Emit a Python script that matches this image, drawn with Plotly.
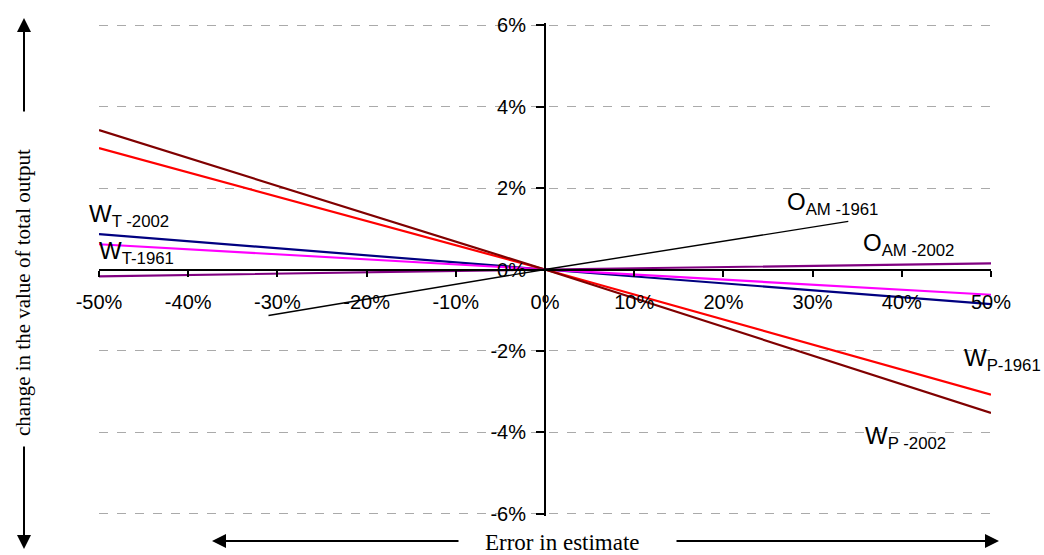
import plotly.graph_objects as go

# Error in estimate (%) and resulting change in the value of total output (%)
error_pct = [-50, 0, 50]
wp_2002 = [3.42, 0, -3.52]
wp_1961 = [2.98, 0, -3.07]
wt_2002 = [0.87, 0, -0.85]
wt_1961 = [0.62, 0, -0.62]
oam_2002 = [-0.17, 0, 0.15]
oam_1961_error = [-31, 0, 34]
oam_1961 = [-1.13, 0, 1.18]

x_ticks = [-50, -40, -30, -20, -10, 0, 10, 20, 30, 40, 50]
x_tick_text = ["-50%", "-40%", "-30%", "-20%", "-10%", "0%",
               "10%", "20%", "30%", "40%", "50%"]
y_ticks = [-6, -4, -2, 0, 2, 4, 6]
y_tick_text = ["-6%", "-4%", "-2%", "0%", "2%", "4%", "6%"]

SANS = "Liberation Sans, Arial, sans-serif"
SERIF = "Liberation Serif, Times New Roman, serif"

W, H = 1044, 555
ML, MR, MT, MB = 99, 53, 23, 39
PW, PH = W - ML - MR, H - MT - MB


def px(xp):
    return (xp - ML) / PW


def py(yp):
    return (H - MB - yp) / PH


fig = go.Figure()

series = [
    (wt_2002, "#000080", "W<sub>T -2002</sub>"),
    (wt_1961, "#FF00FF", "W<sub>T-1961</sub>"),
    (wp_1961, "#FF0000", "W<sub>P-1961</sub>"),
    (wp_2002, "#800000", "W<sub>P -2002</sub>"),
    (oam_2002, "#800080", "O<sub>AM -2002</sub>"),
]
for values, color, name in series:
    fig.add_trace(go.Scatter(x=error_pct, y=values, mode="lines", name=name,
                             line=dict(color=color, width=2.2), showlegend=False))
fig.add_trace(go.Scatter(x=oam_1961_error, y=oam_1961, mode="lines",
                         name="O<sub>AM -1961</sub>",
                         line=dict(color="black", width=1.4), showlegend=False))

# Series labels placed next to their lines (page pixel positions)
labels = [
    ("W<sub>T -2002</sub>", 87, 216),
    ("W<sub>T-1961</sub>", 97, 252),
    ("O<sub>AM -1961</sub>", 785, 203),
    ("O<sub>AM -2002</sub>", 861, 244),
    ("W<sub>P-1961</sub>", 962, 359),
    ("W<sub>P -2002</sub>", 863, 437),
]
for text, lx, ly in labels:
    fig.add_annotation(x=px(lx), y=py(ly), xref="paper", yref="paper", text=text,
                       showarrow=False, xanchor="left", yanchor="middle",
                       font=dict(family=SANS, size=24, color="black"))

arrow = dict(showarrow=True, arrowhead=2, arrowsize=1.4, arrowwidth=2,
             arrowcolor="black", text="", xref="paper", yref="paper",
             axref="pixel", ayref="pixel")

# Vertical axis title with arrows
fig.add_annotation(x=px(23), y=py(293), text="change in the value of total output",
                   textangle=-90, showarrow=False, xref="paper", yref="paper",
                   xanchor="center", yanchor="middle",
                   font=dict(family=SERIF, size=21, color="black"))
fig.add_annotation(x=px(24), y=py(18), ax=0, ay=95, **arrow)
fig.add_annotation(x=px(24), y=py(549), ax=0, ay=-104, **arrow)

# Horizontal axis title with arrows
fig.add_annotation(x=px(562), y=py(542), text="Error in estimate",
                   showarrow=False, xref="paper", yref="paper",
                   xanchor="center", yanchor="middle",
                   font=dict(family=SERIF, size=23, color="black"))
fig.add_annotation(x=px(212), y=py(541), ax=248, ay=0, **arrow)
fig.add_annotation(x=px(999), y=py(541), ax=-324, ay=0, **arrow)

fig.update_layout(
    width=W, height=H,
    margin=dict(l=ML, r=MR, t=MT, b=MB),
    paper_bgcolor="white", plot_bgcolor="white",
    font=dict(family=SANS, size=20, color="black"),
    xaxis=dict(range=[-50, 50], tickvals=x_ticks, ticktext=x_tick_text,
               anchor="free", position=0.5, showline=True, linecolor="black",
               linewidth=2, ticks="outside", ticklen=6, tickwidth=2,
               tickcolor="black", showgrid=False, zeroline=False,
               ticklabelstandoff=8),
    yaxis=dict(range=[-6.05, 6.05], tickvals=y_ticks, ticktext=y_tick_text,
               anchor="free", position=0.5, showline=True, linecolor="black",
               linewidth=2, ticks="outside", ticklen=8, tickwidth=2,
               tickcolor="black", showgrid=True, gridcolor="#AAAAAA",
               gridwidth=1, griddash="dash", zeroline=False,
               ticklabelstandoff=6),
)

fig.write_html("out.html")
